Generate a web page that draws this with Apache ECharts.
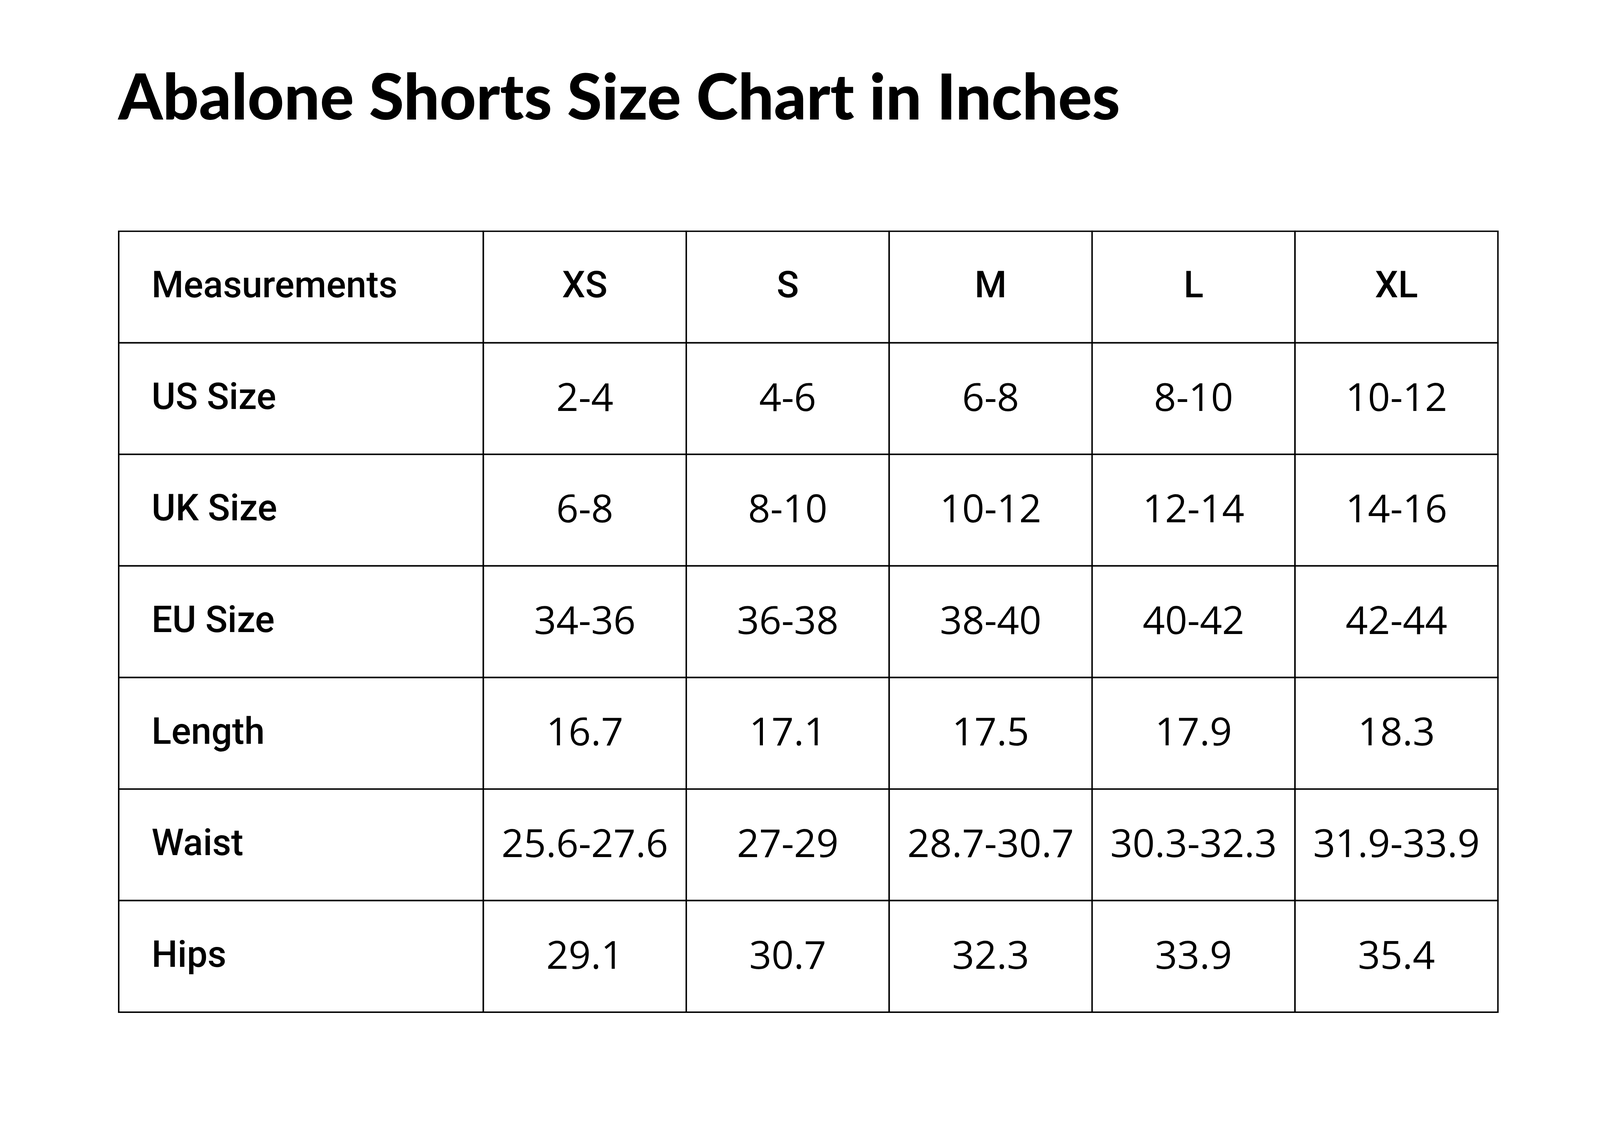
<!DOCTYPE html>
<html><head><meta charset="utf-8">
<script src="https://cdn.jsdelivr.net/npm/echarts@6/dist/echarts.min.js"></script>
<style>html,body{margin:0;padding:0;background:#fff;width:100%;height:100%;overflow:hidden}#c{width:100vw;height:100vh}</style>
</head><body><div id="c"></div>
<script>
const title = 'Abalone Shorts Size Chart in Inches';
const headers = ['Measurements', 'XS', 'S', 'M', 'L', 'XL'];
const rowNames = ['US Size', 'UK Size', 'EU Size', 'Length', 'Waist', 'Hips'];
const usSize = ['2-4', '4-6', '6-8', '8-10', '10-12'];
const ukSize = ['6-8', '8-10', '10-12', '12-14', '14-16'];
const euSize = ['34-36', '36-38', '38-40', '40-42', '42-44'];
const lengthVals = ['16.7', '17.1', '17.5', '17.9', '18.3'];
const waistVals = ['25.6-27.6', '27-29', '28.7-30.7', '30.3-32.3', '31.9-33.9'];
const hipsVals = ['29.1', '30.7', '32.3', '33.9', '35.4'];

const colWidths = [354, 197, 197, 197, 197, 197];
const colEdges = [0];
colWidths.forEach(w => colEdges.push(colEdges[colEdges.length - 1] + w));
const rowsAll = [headers, [rowNames[0], ...usSize], [rowNames[1], ...ukSize], [rowNames[2], ...euSize],
  [rowNames[3], ...lengthVals], [rowNames[4], ...waistVals], [rowNames[5], ...hipsVals]];
const rowCats = rowsAll.map((r, i) => 'r' + i);
const data = [];
rowsAll.forEach((r, ri) => r.forEach((t, ci) => data.push([ci, ri, t])));

const chart = echarts.init(document.getElementById('c'));
const s = chart.getWidth() / 5502;
chart.setOption({
  backgroundColor: '#fff',
  animation: false,
  title: { text: title, left: 400 * s, top: 225 * s,
    textStyle: { fontFamily: 'Lato', fontWeight: 900, fontSize: 218 * s, color: '#000' } },
  grid: { left: '7.42%', right: '6.38%', top: '20.52%', bottom: '10.19%' },
  xAxis: { type: 'value', min: 0, max: colEdges[colEdges.length - 1], show: false },
  yAxis: { type: 'category', data: rowCats, inverse: true, show: false },
  series: [{
    type: 'custom',
    data: data,
    renderItem: function (params, api) {
      const ci = api.value(0), ri = api.value(1);
      const txt = data[params.dataIndex][2];
      const h = api.size([0, 1])[1];
      const p0 = api.coord([colEdges[ci], ri]);
      const p1 = api.coord([colEdges[ci + 1], ri]);
      const y0 = p0[1] - h / 2;
      const isFirst = ci === 0;
      const isHeader = ri === 0 || isFirst;
      return {
        type: 'group',
        children: [
          { type: 'rect', shape: { x: p0[0], y: y0, width: p1[0] - p0[0], height: h },
            style: { fill: '#fff', stroke: '#000', lineWidth: 5 * s } },
          { type: 'text', style: {
              text: txt,
              x: isFirst ? p0[0] + 113 * s : (p0[0] + p1[0]) / 2,
              y: p0[1] + 4 * s,
              align: isFirst ? 'left' : 'center', verticalAlign: 'middle',
              fontFamily: isHeader ? 'Roboto' : 'Open Sans',
              fontWeight: isHeader ? 500 : 400,
              fontSize: (isHeader ? 126 : 134) * s,
              fill: '#000' } }
        ]
      };
    }
  }]
});
</script></body></html>
